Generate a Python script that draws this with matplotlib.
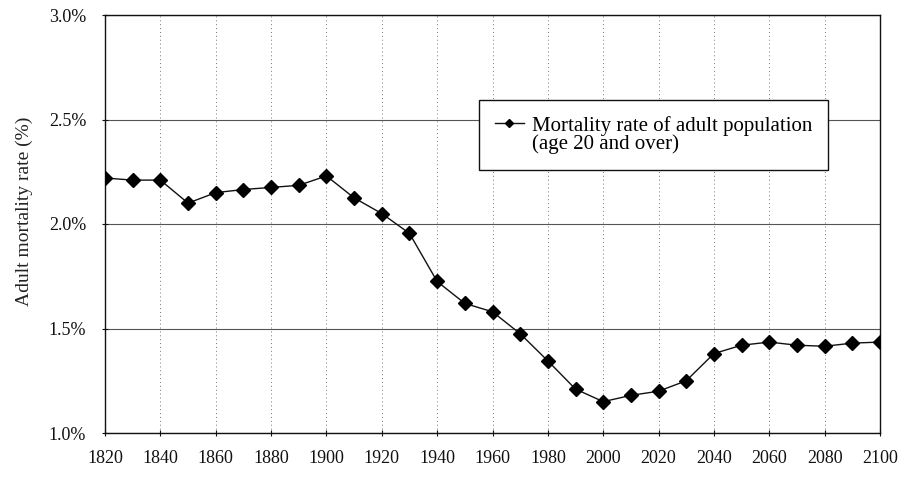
import matplotlib
matplotlib.use("Agg")
import matplotlib.pyplot as plt
from matplotlib.lines import Line2D
from matplotlib.ticker import FuncFormatter

# Adult mortality rate (%), one value per decade
years = [1820, 1830, 1840, 1850, 1860, 1870, 1880, 1890, 1900, 1910,
         1920, 1930, 1940, 1950, 1960, 1970, 1980, 1990, 2000, 2010,
         2020, 2030, 2040, 2050, 2060, 2070, 2080, 2090, 2100]
mortality = [2.22, 2.21, 2.21, 2.10, 2.15, 2.165, 2.175, 2.185, 2.23, 2.125,
             2.05, 1.955, 1.725, 1.62, 1.58, 1.475, 1.345, 1.21, 1.15, 1.18,
             1.20, 1.25, 1.38, 1.42, 1.435, 1.42, 1.415, 1.43, 1.435]

x_ticks = list(range(1820, 2101, 20))
y_ticks = [1.0, 1.5, 2.0, 2.5, 3.0]
legend_lines = ["Mortality rate of adult population", "(age 20 and over)"]

plt.rcParams['font.family'] = ['Liberation Serif', 'DejaVu Serif']

fig = plt.figure(figsize=(8.99, 4.78), dpi=100)
ax = fig.add_axes([105 / 899, 1 - 433 / 478, 775 / 899, 418 / 478])

line, = ax.plot(years, mortality, color='#111111', linewidth=1.0, marker='D',
                markersize=7, markerfacecolor='black', markeredgecolor='black',
                zorder=3)

ax.set_xlim(1820, 2100)
ax.set_ylim(1.0, 3.0)
ax.set_xticks(x_ticks)
ax.set_yticks(y_ticks)
ax.yaxis.set_major_formatter(FuncFormatter(lambda v, pos: f"{v:.1f}%"))

# grid: solid horizontal, dotted vertical
ax.yaxis.grid(True, color='#555555', linewidth=0.8, linestyle='-')
ax.xaxis.grid(True, color='#777777', linewidth=0.7, linestyle=(0, (1, 3)))
ax.set_axisbelow(True)

for sp in ax.spines.values():
    sp.set_color('#111111')
    sp.set_linewidth(1.0)

ax.tick_params(axis='both', direction='inout', length=5, width=0.8,
               colors='#111111', labelsize=13)
ax.tick_params(axis='x', pad=10)
ax.tick_params(axis='y', pad=11)
ax.set_ylabel("Adult mortality rate (%)", fontsize=14, color='#222222')
ax.yaxis.set_label_coords(-0.093, 0.53)

# second legend row carries only the wrapped text, no marker
blank = Line2D([], [], linestyle='none', marker='none')
leg = ax.legend([line, blank], legend_lines,
                loc='upper left', bbox_to_anchor=(374 / 775, 1 - 85 / 418),
                borderaxespad=0, frameon=True, fancybox=False, framealpha=1.0,
                edgecolor='#111111', fontsize=15, markerscale=0.6,
                handlelength=1.4, handletextpad=0.4, borderpad=0.75,
                labelspacing=-0.05)
leg.get_frame().set_linewidth(1.0)

fig.savefig("out.png", dpi=100)
